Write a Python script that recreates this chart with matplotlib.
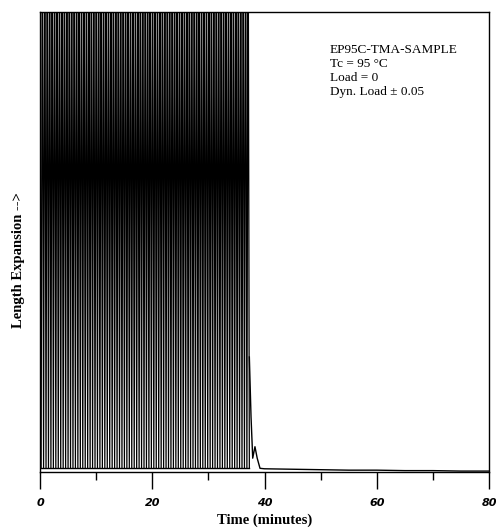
import numpy as np
import matplotlib
matplotlib.use("Agg")
import matplotlib.pyplot as plt

# ---- data ----
osc_start = 0.2          # minutes, start of dynamic-load oscillation
osc_end = 37.3           # minutes, end of oscillation
n_strokes = 170          # vertical strokes in the oscillating region
osc_low = 0.008          # trough level (fraction of full scale)
osc_high = 1.3           # crest level (beyond the top of the plot, clipped)

tail_t = [37.3, 37.6, 37.9, 38.3, 38.7, 39.2, 40.0, 45.0, 50.0, 55.0, 60.0, 65.0, 70.0, 75.0, 80.0]
tail_y = [0.25, 0.12, 0.03, 0.055, 0.03, 0.008, 0.007, 0.006, 0.005, 0.004, 0.004, 0.003, 0.003, 0.002, 0.002]

xticks_major = [0, 20, 40, 60, 80]
xticks_minor = [10, 30, 50, 70]

info_lines = ["EP95C-TMA-SAMPLE", "Tc = 95 \u00b0C", "Load = 0", "Dyn. Load \u00b1 0.05"]

# ---- build oscillation trace ----
t_osc = np.linspace(osc_start, osc_end, n_strokes + 1)
y_osc = np.where(np.arange(n_strokes + 1) % 2 == 0, osc_low, osc_high)

fig = plt.figure(figsize=(4.96, 5.3), dpi=100)
ax = fig.add_axes([40 / 496, 1 - 472 / 530, 449 / 496, 460 / 530])

ax.plot(t_osc, y_osc, color="black", lw=0.9, solid_joinstyle="miter")
ax.plot([0, osc_end], [osc_low, osc_low], color="black", lw=1.0)
ax.plot(tail_t, tail_y, color="black", lw=1.0)

ax.set_xlim(0, 80)
ax.set_ylim(0, 1)
ax.set_yticks([])
ax.set_xticks(xticks_major)
ax.set_xticks(xticks_minor, minor=True)
ax.tick_params(axis="x", which="major", direction="out", length=12, width=1.0, pad=7)
ax.tick_params(axis="x", which="minor", direction="out", length=6, width=1.0)
for lab in ax.get_xticklabels():
    lab.set_fontfamily("DejaVu Sans")
    lab.set_fontstyle("italic")
    lab.set_fontweight("bold")
    lab.set_fontsize(8)

for sp in ax.spines.values():
    sp.set_linewidth(1.0)

ax.set_xlabel("Time (minutes)", fontfamily="Liberation Serif", fontweight="bold", fontsize=10.5, labelpad=4)
ax.set_ylabel("Length Expansion -->", fontfamily="Liberation Serif", fontweight="bold", fontsize=10.5)
ax.yaxis.set_label_coords(-0.033, 0.46)

ax.text(0.645, 0.93, "\n".join(info_lines), transform=ax.transAxes, fontfamily="Liberation Serif",
        fontsize=9.5, va="top", ha="left", linespacing=1.2)

fig.savefig("out.png", dpi=100)
